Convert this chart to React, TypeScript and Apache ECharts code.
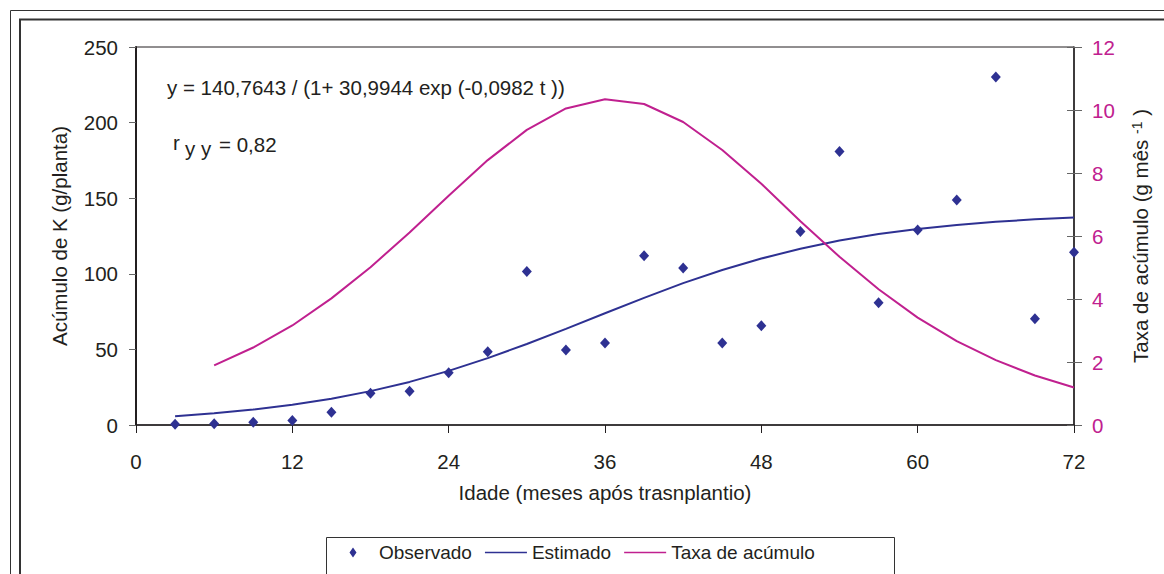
import React, { useEffect, useRef } from "react";
import * as echarts from "echarts";

const months = [3, 6, 9, 12, 15, 18, 21, 24, 27, 30, 33, 36, 39, 42, 45, 48, 51, 54, 57, 60, 63, 66, 69, 72];
const observed = [0.5, 0.8, 1.8, 2.9, 8.4, 21, 22.3, 34.6, 48.5, 101.6, 49.6, 54.2, 112, 103.8, 54.2, 65.7, 128, 180.9, 80.9, 129, 148.8, 230.2, 70.3, 114.2];
const estimated = [5.8, 7.7, 10.2, 13.4, 17.4, 22.4, 28.5, 35.8, 44.2, 53.6, 63.6, 73.9, 84.1, 93.8, 102.5, 110.1, 116.6, 122.0, 126.3, 129.7, 132.3, 134.4, 136.0, 137.2];
const rateMonths = [6, 9, 12, 15, 18, 21, 24, 27, 30, 33, 36, 39, 42, 45, 48, 51, 54, 57, 60, 63, 66, 69, 72];
const rate = [1.89, 2.46, 3.16, 4.02, 5.01, 6.11, 7.28, 8.41, 9.37, 10.05, 10.34, 10.19, 9.62, 8.73, 7.66, 6.47, 5.34, 4.31, 3.41, 2.66, 2.06, 1.57, 1.19];

const seriesNames = ["Observado", "Estimado", "Taxa de acúmulo"];
const xTitle = "Idade (meses após trasnplantio)";
const yLeftTitle = "Acúmulo de K (g/planta)";
const equation = "y = 140,7643 / (1+ 30,9944 exp (-0,0982 t ))";

const FONT = "'Liberation Sans', Arial, sans-serif";
const DARK = "#231f20";
const BLUE = "#2e3192";
const MAGENTA = "#c0208f";

// legend icons: bounding box 42x10 (tiny invisible corner marks keep the box)
const DIAMOND_ICON =
  "path://M0,0L0.01,0L0.01,0.01Z M41.99,9.99L42,9.99L42,10Z M17.5,5L21,0L24.5,5L21,10Z";
const LINE_ICON = "path://M0,0L0.01,0L0.01,0.01Z M41.99,9.99L42,9.99L42,10Z M0,4.2H42V5.8H0Z";

export default function App() {
  const ref = useRef<HTMLDivElement>(null);
  useEffect(() => {
    if (!ref.current) return;
    const chart = echarts.init(ref.current, null, { renderer: "svg" });
    const fs = 20.5;
    const lfs = 19;
    chart.setOption({
      animation: false,
      backgroundColor: "#ffffff",
      textStyle: { fontFamily: FONT },
      grid: {
        left: 136,
        right: 90,
        top: 47,
        bottom: 149,
        show: true,
        borderColor: DARK,
        borderWidth: 1,
      },
      legend: {
        data: [
          { name: seriesNames[0], icon: DIAMOND_ICON, itemStyle: { color: BLUE, opacity: 1 } },
          { name: seriesNames[1], icon: LINE_ICON, itemStyle: { color: BLUE, opacity: 1 } },
          { name: seriesNames[2], icon: LINE_ICON, itemStyle: { color: MAGENTA, opacity: 1 } },
        ],
        left: 332,
        top: 543,
        padding: 0,
        itemWidth: 42,
        itemHeight: 10,
        itemGap: 13,
        textStyle: { fontSize: lfs, color: DARK, fontFamily: FONT },
      },
      xAxis: {
        type: "value",
        min: 0,
        max: 72,
        interval: 12,
        splitLine: { show: false },
        axisLine: { lineStyle: { color: DARK, width: 1.5 } },
        axisTick: { length: 8, lineStyle: { color: DARK } },
        axisLabel: { fontSize: fs, color: DARK, margin: 26, fontFamily: FONT },
        name: xTitle,
        nameLocation: "middle",
        nameGap: 57,
        nameTextStyle: { fontSize: fs, color: DARK, fontFamily: FONT },
      },
      yAxis: [
        {
          type: "value",
          min: 0,
          max: 250,
          interval: 50,
          position: "left",
          splitLine: { show: false },
          axisLine: { show: true, lineStyle: { color: DARK, width: 2 } },
          axisTick: { show: true, length: 7, lineStyle: { color: "#666" } },
          axisLabel: { fontSize: fs, color: DARK, margin: 18, fontFamily: FONT },
          name: yLeftTitle,
          nameLocation: "middle",
          nameGap: 66,
          nameTextStyle: { fontSize: fs, color: DARK, fontFamily: FONT },
        },
        {
          type: "value",
          min: 0,
          max: 12,
          interval: 2,
          position: "right",
          splitLine: { show: false },
          axisLine: { show: true, lineStyle: { color: DARK, width: 1.5 } },
          axisTick: { show: true, length: 8, lineStyle: { color: "#666" } },
          axisLabel: { fontSize: fs, color: MAGENTA, margin: 18, fontFamily: FONT },
          name: "{n|Taxa de acúmulo (g mês }{s|-1}{n| )}",
          nameLocation: "middle",
          nameGap: 56,
          nameTextStyle: {
            fontFamily: FONT,
            rich: {
              n: { fontSize: fs, color: DARK, fontFamily: FONT },
              s: { fontSize: 14, color: DARK, fontFamily: FONT, verticalAlign: "top" },
            },
          },
        },
        {
          type: "value",
          min: 0,
          max: 12,
          interval: 2,
          position: "right",
          splitLine: { show: false },
          axisLine: { show: false },
          axisTick: { show: true, inside: true, length: 7, lineStyle: { color: "#666" } },
          axisLabel: { show: false },
        },
      ],
      graphic: [
        {
          type: "rect",
          silent: true,
          shape: { x: 10.5, y: 10.5, width: 1200, height: 620 },
          style: { fill: "none", stroke: "#333", lineWidth: 1 },
        },
        {
          type: "rect",
          silent: true,
          shape: { x: 20, y: 19.5, width: 1200, height: 620 },
          style: { fill: "none", stroke: "#333", lineWidth: 2 },
        },
        {
          type: "rect",
          silent: true,
          shape: { x: 326.5, y: 537.5, width: 568, height: 80 },
          style: { fill: "#fff", stroke: "#333", lineWidth: 1 },
          z: -1,
        },
        {
          type: "text",
          silent: true,
          x: 167,
          y: 87,
          style: { text: equation, font: `${fs}px ${FONT}`, fill: DARK, verticalAlign: "middle" },
        },
        {
          type: "text",
          silent: true,
          x: 173,
          y: 142,
          style: { text: "r", font: `${fs}px ${FONT}`, fill: DARK, verticalAlign: "middle" },
        },
        {
          type: "text",
          silent: true,
          x: 185,
          y: 148,
          style: { text: "y y", font: `${fs}px ${FONT}`, fill: DARK, verticalAlign: "middle" },
        },
        {
          type: "text",
          silent: true,
          x: 219,
          y: 144,
          style: { text: "= 0,82", font: `${fs}px ${FONT}`, fill: DARK, verticalAlign: "middle" },
        },
      ],
      series: [
        {
          name: seriesNames[0],
          type: "scatter",
          symbol: "diamond",
          symbolSize: [10, 11],
          symbolKeepAspect: true,
          itemStyle: { color: BLUE, opacity: 1 },
          data: months.map((m, i) => [m, observed[i]]),
          z: 5,
        },
        {
          name: seriesNames[1],
          type: "line",
          symbol: "none",
          lineStyle: { color: BLUE, width: 2 },
          itemStyle: { color: BLUE },
          data: months.map((m, i) => [m, estimated[i]]),
        },
        {
          name: seriesNames[2],
          type: "line",
          yAxisIndex: 1,
          symbol: "none",
          lineStyle: { color: MAGENTA, width: 2 },
          itemStyle: { color: MAGENTA },
          data: rateMonths.map((m, i) => [m, rate[i]]),
        },
      ],
    });
    return () => chart.dispose();
  }, []);
  return (
    <div
      ref={ref}
      style={{ position: "absolute", left: 0, top: 0, width: 1164, height: 574 }}
    />
  );
}
